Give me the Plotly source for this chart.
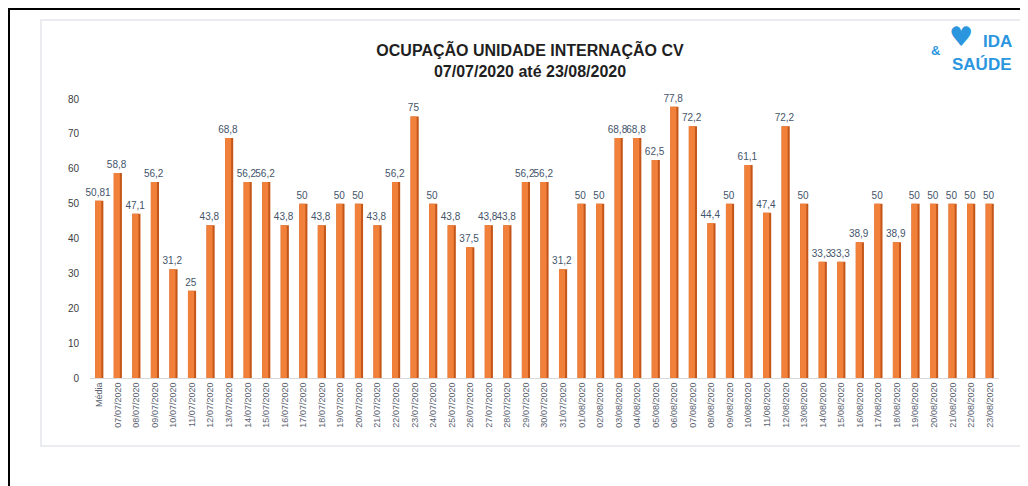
import plotly.graph_objects as go

# the page puts the figure 8px in from the top left corner
OFF = 8
W, H = 1028 - OFF, 486 - OFF

categories = [
    "Média",
    "07/07/2020", "08/07/2020", "09/07/2020", "10/07/2020", "11/07/2020", "12/07/2020",
    "13/07/2020", "14/07/2020", "15/07/2020", "16/07/2020", "17/07/2020", "18/07/2020",
    "19/07/2020", "20/07/2020", "21/07/2020", "22/07/2020", "23/07/2020", "24/07/2020",
    "25/07/2020", "26/07/2020", "27/07/2020", "28/07/2020", "29/07/2020", "30/07/2020",
    "31/07/2020", "01/08/2020", "02/08/2020", "03/08/2020", "04/08/2020", "05/08/2020",
    "06/08/2020", "07/08/2020", "08/08/2020", "09/08/2020", "10/08/2020", "11/08/2020",
    "12/08/2020", "13/08/2020", "14/08/2020", "15/08/2020", "16/08/2020", "17/08/2020",
    "18/08/2020", "19/08/2020", "20/08/2020", "21/08/2020", "22/08/2020", "23/08/2020",
]
occupancy = [
    50.81,
    58.8, 47.1, 56.2, 31.2, 25, 43.8,
    68.8, 56.2, 56.2, 43.8, 50, 43.8,
    50, 50, 43.8, 56.2, 75, 50,
    43.8, 37.5, 43.8, 43.8, 56.2, 56.2,
    31.2, 50, 50, 68.8, 68.8, 62.5,
    77.8, 72.2, 44.4, 50, 61.1, 47.4,
    72.2, 50, 33.3, 33.3, 38.9, 50,
    38.9, 50, 50, 50, 50, 50,
]
y_ticks = [0, 10, 20, 30, 40, 50, 60, 70, 80]

labels = [f"{v:g}".replace(".", ",") for v in occupancy]

# plot area, in page pixels
ML, MR, MT, MB = 90 - OFF, 29, 99 - OFF, 108
PW, PH = W - ML - MR, H - MT - MB


def px(x):
    return (x - OFF - ML) / PW


def py(y):
    return (H - MB - (y - OFF)) / PH


fig = go.Figure()

# dark side of each bar (fake 3d)
fig.add_trace(go.Bar(
    x=categories, y=occupancy, width=0.44,
    marker=dict(color="#C4561A", line=dict(width=0)),
    hoverinfo="skip",
))
# lit face
fig.add_trace(go.Bar(
    x=categories, y=occupancy, width=0.33, offset=-0.22,
    marker=dict(color="#F0803A", line=dict(width=0)),
    text=labels, textposition="outside", constraintext="none",
    textfont=dict(family="Liberation Sans", size=10, color="#44546A"),
    cliponaxis=False,
))

blue = "#2B96DE"
fig.update_layout(
    width=W, height=H,
    margin=dict(l=ML, r=MR, t=MT, b=MB),
    paper_bgcolor="white", plot_bgcolor="white",
    barmode="overlay",
    showlegend=False,
    font=dict(family="Liberation Sans", color="#595959"),
    title=dict(
        text="<b>OCUPAÇÃO UNIDADE INTERNAÇÃO CV<br>07/07/2020 até 23/08/2020</b>",
        x=(530 - OFF) / W, xanchor="center", y=1 - (56 - OFF) / H, yanchor="middle",
        font=dict(family="Liberation Sans", size=16, color="#1F1F1F"),
    ),
    xaxis=dict(
        type="category", tickangle=-90, showgrid=False,
        tickfont=dict(size=9, color="#5A6270"),
        showline=True, linecolor="#D9D9D9", linewidth=1, ticks="",
    ),
    yaxis=dict(
        range=[0, 80], tickvals=y_ticks, showgrid=False, zeroline=False,
        tickfont=dict(size=10, color="#404040", family="Liberation Sans"),
        ticklabelstandoff=10,
    ),
    shapes=[
        # outer black frame (left and top)
        dict(type="line", xref="paper", yref="paper", x0=px(8), x1=px(1028), y0=py(9), y1=py(9),
             line=dict(color="black", width=2)),
        dict(type="line", xref="paper", yref="paper", x0=px(9), x1=px(9), y0=py(8), y1=py(486),
             line=dict(color="black", width=2)),
        # light inner chart border
        dict(type="rect", xref="paper", yref="paper", x0=px(41), x1=px(1025), y0=py(20), y1=py(446),
             line=dict(color="#E3E6EA", width=1.5), layer="below"),
    ],
    annotations=[
        dict(text="♥", xref="paper", yref="paper", x=px(961), y=py(37),
             xanchor="center", yanchor="middle", showarrow=False,
             font=dict(family="DejaVu Sans", size=27, color=blue)),
        dict(text="<b>IDA</b>", xref="paper", yref="paper", x=px(1014), y=py(42),
             xanchor="right", yanchor="middle", showarrow=False,
             font=dict(family="Liberation Sans", size=17, color=blue)),
        dict(text="<b>SAÚDE</b>", xref="paper", yref="paper", x=px(1014), y=py(64),
             xanchor="right", yanchor="middle", showarrow=False,
             font=dict(family="Liberation Sans", size=17, color=blue)),
        dict(text="<b>&</b>", xref="paper", yref="paper", x=px(935), y=py(50),
             xanchor="center", yanchor="middle", showarrow=False,
             font=dict(family="Liberation Sans", size=13, color=blue)),
    ],
)

fig.write_html("out.html")
